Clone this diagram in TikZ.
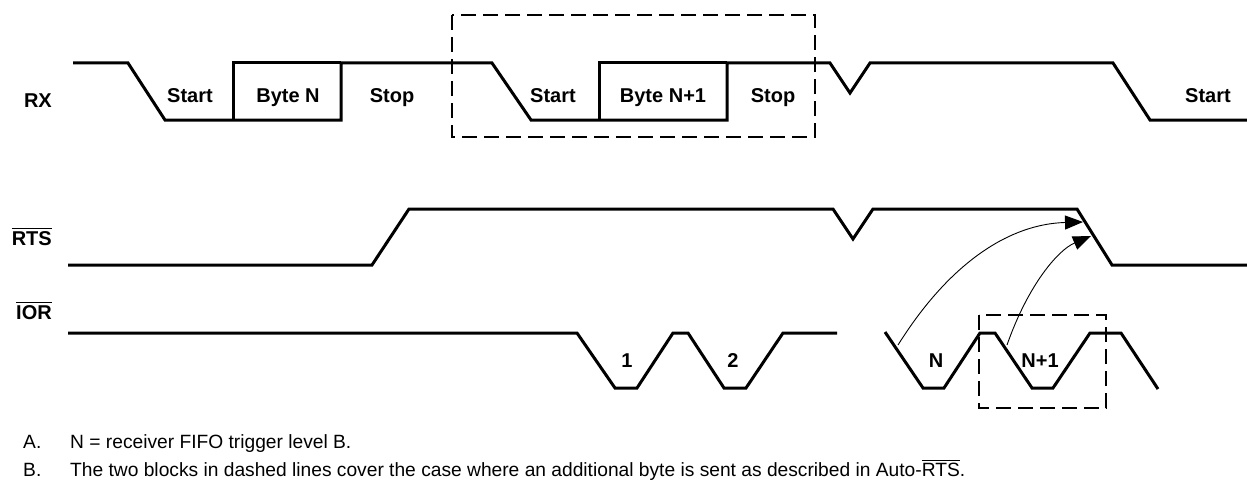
\documentclass[tikz,border=0pt]{standalone}
\usepackage{fontspec}
\setmainfont{Liberation Sans}
\usetikzlibrary{arrows.meta}
\newcommand\ovbar[2]{\leavevmode\vbox{\hrule height #1\kern 1.6pt\hbox{#2}}}
\begin{document}
\begin{tikzpicture}[x=1pt,y=-1pt,
  sig/.style={line width=3pt, line join=miter},
  dbox/.style={line width=2.2pt, dash pattern=on 15pt off 7pt},
  lbl/.style={font=\fontsize{20}{24}\selectfont\bfseries, inner sep=0pt, anchor=base},
  sname/.style={font=\fontsize{20}{24}\selectfont\bfseries, inner sep=0pt, anchor=base east},
  note/.style={font=\fontsize{19.2}{22}\selectfont, inner sep=0pt, anchor=base west},
  cause/.style={line width=0.9pt, -{Triangle[length=18pt,width=14pt]}}]
\useasboundingbox (0,0) rectangle (1247,487);
\fill[white] (0,0) rectangle (1247,487);

% signal names
\node[sname] (rx) at (52,107) {RX};
\node[sname] (rts) at (52,245) {\ovbar{1.6pt}{RTS}};
\node[sname] (ior) at (52,319) {\ovbar{1.6pt}{IOR}};

% RX waveform
\draw[sig] (73,63) -- (128,63) -- (165,120) -- (341,120) -- (341,63) -- (492,63)
  -- (531,120) -- (727,120) -- (727,63) -- (830,63) -- (850,93) -- (870,63)
  -- (1113,63) -- (1150,120) -- (1247,120);
\draw[sig] (233,120) -- (233,63) -- (341,63);
\draw[sig] (599,120) -- (599,63) -- (727,63);

\node[lbl] (st1) at (190,102) {Start};
\node[lbl] (bn) at (288,102) {Byte N};
\node[lbl] (sp1) at (392,102) {Stop};
\node[lbl] (st2) at (553,102) {Start};
\node[lbl] (bn1) at (663,102) {Byte N+1};
\node[lbl] (sp2) at (773,102) {Stop};
\node[lbl] (st3) at (1208,102) {Start};

\draw[dbox] (452,15) rectangle (815,137);

% RTS waveform
\draw[sig] (68,265) -- (372,265) -- (409,209) -- (833,209) -- (853,239) -- (873,209)
  -- (1077,209) -- (1112,265) -- (1247,265);

% IOR waveform
\draw[sig] (68,333) -- (577,333) -- (615,388) -- (637,388) -- (673,333) -- (688,333)
  -- (724,388) -- (746,388) -- (783,333) -- (837,333);
\draw[sig] (885,332) -- (923,388) -- (944,388) -- (980,333) -- (995,333)
  -- (1032,388) -- (1053,388) -- (1090,333) -- (1121,333) -- (1158,389);

\node[lbl] (r1) at (627,367) {1};
\node[lbl] (r2) at (733,367) {2};
\node[lbl] (rn) at (936,367) {N};
\node[lbl] (rn1) at (1040,367) {N+1};

\draw[dbox] (979,315) rectangle (1106,408);

% cause arrows
\coordinate (iorN) at (898,345);
\coordinate (iorN1) at (1007,345);
\coordinate (rtsA) at (1083,222);
\coordinate (rtsB) at (1091,236);
\draw[cause] (iorN) .. controls (950,262) and (1010,224) .. (rtsA);
\draw[cause] (iorN1) .. controls (1028,285) and (1058,250) .. (rtsB);

% notes
\node[note] (na) at (23,448) {A.};
\node[note] (nat) at (70,448) {N = receiver FIFO trigger level B.};
\node[note] (nb) at (23,476) {B.};
\node[note] (nbt) at (70,476) {The two blocks in dashed lines cover the case where an additional byte is sent as described in Auto-\ovbar{1pt}{RTS}.};
\end{tikzpicture}
\end{document}
